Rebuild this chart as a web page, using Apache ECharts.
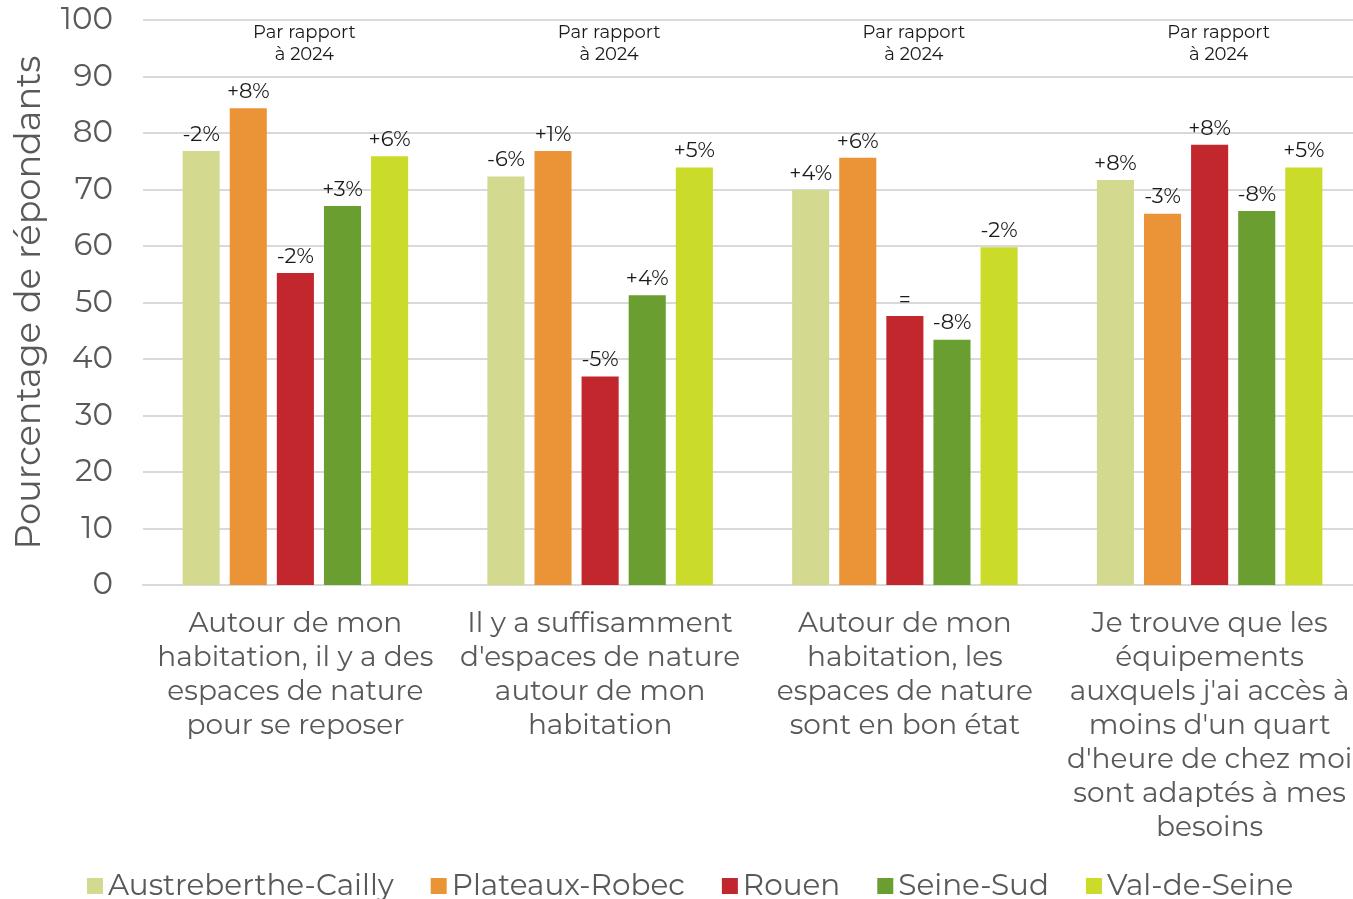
<!DOCTYPE html>
<html lang="fr">
<head>
    <meta charset="UTF-8">
    <title>Espaces de nature</title>
    <style>
        html, body { margin: 0; padding: 0; background: #fff; }
        #main { width: 1353px; height: 899px; }
    </style>
</head>
<body>
<div id="main"></div>
<script src="https://cdn.jsdelivr.net/npm/echarts@6/dist/echarts.min.js"></script>
<script>
    const myChart = echarts.init(document.getElementById('main'));

    // categories (line breaks as in the original)
    const categories = [
        'Autour de mon\nhabitation, il y a des\nespaces de nature\npour se reposer',
        'Il y a suffisamment\nd\'espaces de nature\nautour de mon\nhabitation',
        'Autour de mon\nhabitation, les\nespaces de nature\nsont en bon état',
        'Je trouve que les\néquipements\nauxquels j\'ai accès à\nmoins d\'un quart\nd\'heure de chez moi\nsont adaptés à mes\nbesoins'
    ];
    const topNote = 'Par rapport\nà 2024';

    // territoires
    const names = ['Austreberthe-Cailly', 'Plateaux-Robec', 'Rouen', 'Seine-Sud', 'Val-de-Seine'];
    const colors = ['#d3da90', '#eb9437', '#c1272d', '#6b9e31', '#cbdb2a'];

    // % de répondants
    const austreberthe = [76.8, 72.3, 69.9, 71.7];
    const plateaux     = [84.4, 76.8, 75.6, 65.7];
    const rouen        = [55.2, 36.9, 47.6, 77.9];
    const seineSud     = [67.1, 51.3, 43.4, 66.2];
    const valDeSeine   = [75.9, 73.9, 59.8, 73.9];

    // évolution par rapport à 2024
    const dAustreberthe = ['-2%', '-6%', '+4%', '+8%'];
    const dPlateaux     = ['+8%', '+1%', '+6%', '-3%'];
    const dRouen        = ['-2%', '-5%', '=', '+8%'];
    const dSeineSud     = ['+3%', '+4%', '-8%', '-8%'];
    const dValDeSeine   = ['+6%', '+5%', '-2%', '+5%'];

    const values = [austreberthe, plateaux, rouen, seineSud, valDeSeine];
    const deltas = [dAustreberthe, dPlateaux, dRouen, dSeineSud, dValDeSeine];

    const font = 'Montserrat, "Noto Sans", sans-serif';

    const series = names.map((name, i) => ({
        name,
        type: 'bar',
        barGap: '27%',
        barCategoryGap: '26%',
        itemStyle: { color: colors[i] },
        label: {
            show: true,
            position: 'top',
            distance: 6,
            fontFamily: font,
            fontSize: 21,
            color: '#1a1a1a',
            formatter: p => deltas[i][p.dataIndex]
        },
        data: values[i]
    }));

    const option = {
        textStyle: { fontFamily: font },
        // la zone de tracé déborde un peu à droite, comme dans l'original
        grid: { left: 143, width: 1219, top: 20, bottom: 314, outerBoundsMode: 'none' },
        legend: {
            top: 866,
            left: 82,
            itemWidth: 16,
            itemHeight: 16,
            itemGap: 37,
            icon: 'rect',
            textStyle: { fontFamily: font, fontSize: 29.5, color: '#595959' },
            data: names
        },
        xAxis: [{
            type: 'category',
            data: categories,
            axisTick: { show: false },
            axisLine: { lineStyle: { color: '#d9d9d9', width: 2 } },
            axisLabel: {
                interval: 0,
                margin: 22,
                fontFamily: font,
                fontSize: 28,
                lineHeight: 34,
                color: '#595959'
            }
        }, {
            type: 'category',
            position: 'top',
            data: categories.map(() => topNote),
            axisTick: { show: false },
            axisLine: { show: false },
            axisLabel: {
                inside: true,
                margin: 2,
                interval: 0,
                fontFamily: font,
                fontSize: 18,
                lineHeight: 22,
                padding: [0, 0, 0, 18],
                color: '#1a1a1a'
            }
        }],
        yAxis: {
            type: 'value',
            min: 0,
            max: 100,
            interval: 10,
            name: 'Pourcentage de répondants',
            nameLocation: 'middle',
            nameGap: 96,
            nameTextStyle: { fontFamily: font, fontSize: 35, color: '#595959' },
            axisLabel: { fontFamily: font, fontSize: 31, color: '#595959', margin: 30 },
            splitLine: { lineStyle: { color: '#d9d9d9', width: 2 } }
        },
        series
    };

    myChart.setOption(option);
</script>
</body>
</html>
